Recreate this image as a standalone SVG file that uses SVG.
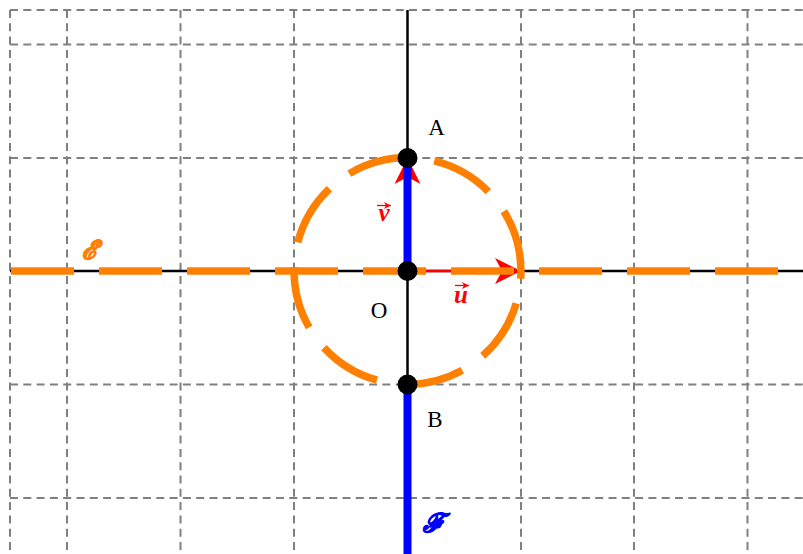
<svg xmlns="http://www.w3.org/2000/svg" width="803" height="554" viewBox="0 0 803 554">
<defs>
<style>
.grid{stroke:#808080;stroke-width:2;stroke-dasharray:8 5.3;fill:none}
.axis{stroke:#000;stroke-width:2.5;fill:none}
.lbl{font-family:"Liberation Serif","Times New Roman",serif;font-size:23px;fill:#000}
.vec{font-family:"Liberation Serif","Times New Roman",serif;font-size:25px;font-weight:bold;font-style:italic;fill:#ff0000}
.scr{font-family:"DejaVu Serif",serif;font-size:26px;font-weight:bold;font-style:italic;stroke-width:1;stroke-linejoin:round}
.orange{stroke:#ff8000;stroke-width:7.5;fill:none;stroke-dasharray:63 25}
.blue{stroke:#0000ff;stroke-width:8;fill:none}
</style>
<marker id="stealth" viewBox="0 0 28 28" refX="26" refY="14" markerWidth="28" markerHeight="28" markerUnits="userSpaceOnUse" orient="auto">
<path d="M26 14 L0 1 L7 14 L0 27 Z" fill="#ff0000"/>
</marker>
<marker id="small" viewBox="0 0 8 8" refX="7" refY="4" markerWidth="8" markerHeight="8" markerUnits="userSpaceOnUse" orient="auto">
<path d="M7 4 L0 0.5 L2 4 L0 7.5 Z" fill="#ff0000"/>
</marker>
</defs>
<rect width="803" height="554" fill="#fff"/>
<g id="grid">
<line class="grid" x1="10" y1="10" x2="803" y2="10"/>
<line class="grid" x1="10" y1="44.5" x2="803" y2="44.5"/>
<line class="grid" x1="10" y1="158" x2="803" y2="158"/>
<line class="grid" x1="10" y1="384.5" x2="803" y2="384.5"/>
<line class="grid" x1="10" y1="498" x2="803" y2="498"/>
<line class="grid" x1="10" y1="10" x2="10" y2="554"/>
<line class="grid" x1="67" y1="10" x2="67" y2="554"/>
<line class="grid" x1="180.5" y1="10" x2="180.5" y2="554"/>
<line class="grid" x1="294" y1="10" x2="294" y2="554"/>
<line class="grid" x1="521" y1="10" x2="521" y2="554"/>
<line class="grid" x1="634" y1="10" x2="634" y2="554"/>
<line class="grid" x1="747.5" y1="10" x2="747.5" y2="554"/>
</g>
<g id="axes">
<line class="axis" x1="10" y1="271" x2="803" y2="271"/>
<line class="axis" x1="407.5" y1="10" x2="407.5" y2="554"/>
</g>
<g id="connectors">
<line id="vec-u" x1="407.5" y1="271" x2="521" y2="271" stroke="#ff0000" stroke-width="2.5" marker-end="url(#stealth)"/>
<line id="vec-v" x1="407.5" y1="271" x2="407.5" y2="158" stroke="#ff0000" stroke-width="2.5" marker-end="url(#stealth)"/>
<line id="line-E" class="orange" x1="11" y1="271" x2="803" y2="271"/>
<path id="circle" class="orange" d="M520.9 271 A113.4 113.4 0 0 0 294.1 271 A113.4 113.4 0 0 0 520.9 271"/>
<line id="line-F-OA" class="blue" x1="407.5" y1="158" x2="407.5" y2="271"/>
<line id="line-F-B" class="blue" x1="407.5" y1="384.5" x2="407.5" y2="554"/>
</g>
<g id="node-A"><circle cx="407.5" cy="158" r="10"/><text class="lbl" x="436.5" y="135" text-anchor="middle">A</text></g>
<g id="node-O"><circle cx="407.5" cy="271" r="10"/><text class="lbl" x="379" y="318" text-anchor="middle">O</text></g>
<g id="node-B"><circle cx="407.5" cy="384.5" r="10"/><text class="lbl" x="435" y="427" text-anchor="middle">B</text></g>
<g id="label-u"><text class="vec" x="461" y="303" text-anchor="middle">u</text><line x1="455" y1="285.5" x2="469" y2="285.5" stroke="#ff0000" stroke-width="1.3" marker-end="url(#small)"/></g>
<g id="label-v"><text class="vec" x="384" y="221" text-anchor="middle">v</text><line x1="377" y1="205.5" x2="391" y2="205.5" stroke="#ff0000" stroke-width="1.3" marker-end="url(#small)"/></g>
<g id="label-E"><text class="scr" x="90" y="259" text-anchor="middle" fill="#ff8000" stroke="#ff8000">ℰ</text></g>
<g id="label-F"><text class="scr" x="433" y="532" text-anchor="middle" fill="#0000ff" stroke="#0000ff">ℱ</text></g>
</svg>
